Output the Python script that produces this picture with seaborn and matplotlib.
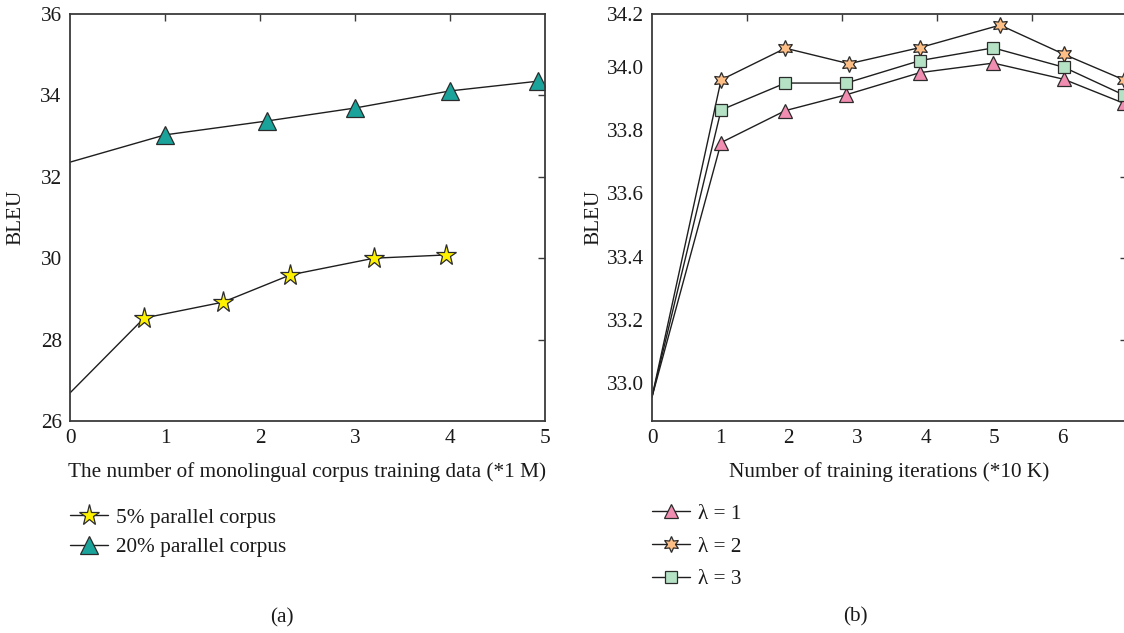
import matplotlib
matplotlib.use("Agg")
import matplotlib.pyplot as plt
import seaborn as sns

# ---------------- data ----------------
# Panel (a)
a_x_5pct = [0, 0.78, 1.61, 2.32, 3.20, 3.96]
a_y_5pct = [26.69, 28.53, 28.92, 29.59, 30.00, 30.08]
a_x_20pct = [0, 1.00, 2.07, 3.00, 4.00, 4.93]
a_y_20pct = [32.36, 33.03, 33.37, 33.69, 34.11, 34.35]
a_labels = ["5% parallel corpus", "20% parallel corpus"]
a_xticks = [0, 1, 2, 3, 4, 5]
a_yticks = [26, 28, 30, 32, 34, 36]

# Panel (b)
b_x_l1 = [0, 1.01, 1.95, 2.84, 3.92, 4.99, 6.02, 6.90]
b_y_l1 = [32.957, 33.760, 33.861, 33.911, 33.981, 34.011, 33.960, 33.884]
b_x_l2 = [0, 1.01, 1.95, 2.88, 3.92, 5.09, 6.02, 6.90]
b_y_l2 = [32.957, 33.958, 34.058, 34.009, 34.060, 34.131, 34.039, 33.958]
b_x_l3 = [0, 1.01, 1.95, 2.84, 3.92, 4.99, 6.02, 6.90]
b_y_l3 = [32.957, 33.863, 33.948, 33.948, 34.019, 34.059, 33.998, 33.910]
b_labels = ["λ = 1", "λ = 2", "λ = 3"]
b_xticks = [0, 1, 2, 3, 4, 5, 6]
b_yticks = [33.0, 33.2, 33.4, 33.6, 33.8, 34.0, 34.166]
b_yticklabels = ["33.0", "33.2", "33.4", "33.6", "33.8", "34.0", "34.2"]

# ---------------- style ----------------
sns.set_theme(style="white")
plt.rcParams["font.family"] = ["Liberation Serif", "DejaVu Serif"]
FS = 15.3
SPINE = "#3a3a3a"
LINE = "#1e1e1e"
EDGE = "#2b2b2b"
TXT = "#1a1a1a"

fig = plt.figure(figsize=(11.24, 6.33), dpi=100)
W, H = 1124, 633


def make_ax(left_px, right_px, top_px=14, bottom_px=421):
    return fig.add_axes([left_px / W, 1 - bottom_px / H,
                         (right_px - left_px) / W, (bottom_px - top_px) / H])


axA = make_ax(70, 545)
axB = make_ax(652, 1127)

common = dict(color=LINE, linewidth=1.0, markeredgecolor=EDGE,
              markeredgewidth=0.9, sort=False, markevery=slice(1, None),
              estimator=None)

sns.lineplot(x=a_x_5pct, y=a_y_5pct, ax=axA, marker="*", markersize=15.5,
             markerfacecolor="#FFF200", label=a_labels[0], **common)
sns.lineplot(x=a_x_20pct, y=a_y_20pct, ax=axA, marker="^", markersize=12.5,
             markerfacecolor="#1AA39A", label=a_labels[1], **common)

sns.lineplot(x=b_x_l1, y=b_y_l1, ax=axB, marker="^", markersize=9.5,
             markerfacecolor="#F28DB2", label=b_labels[0], **common)
sns.lineplot(x=b_x_l2, y=b_y_l2, ax=axB, marker=(6, 1, 0), markersize=11.5,
             markerfacecolor="#FDBF86", label=b_labels[1], **common)
sns.lineplot(x=b_x_l3, y=b_y_l3, ax=axB, marker="s", markersize=8,
             markerfacecolor="#B5E2C5", label=b_labels[2], **common)

axA.set_xlim(0, 5)
axA.set_ylim(26, 36)
axA.set_xticks(a_xticks)
axA.set_yticks(a_yticks)

axB.set_xlim(0, 475 / 68.4)
axB.set_ylim(32.881, 34.166)
axB.set_xticks(b_xticks)
axB.set_yticks(b_yticks)
axB.set_yticklabels(b_yticklabels)

for ax in (axA, axB):
    for s in ax.spines.values():
        s.set_color(SPINE)
        s.set_linewidth(1.3)
        s.set_visible(True)
    ax.tick_params(direction="in", length=5, width=1.0, color=SPINE,
                   labelsize=FS, pad=6, labelcolor=TXT)
    ax.set_ylabel("BLEU", fontsize=FS, color=TXT)
    ax.yaxis.label.set_va("center")
    # box ticks on the top and right edges
    top = ax.secondary_xaxis("top", functions=(
        lambda v, a=ax: (v - a.get_xlim()[0]) / (a.get_xlim()[1] - a.get_xlim()[0]),
        lambda f, a=ax: a.get_xlim()[0] + f * (a.get_xlim()[1] - a.get_xlim()[0])))
    top.set_xticks([0.2, 0.4, 0.6, 0.8])
    top.tick_params(direction="in", length=5, width=1.0, color=SPINE, labeltop=False)
    top.spines["top"].set_visible(False)
    right = ax.secondary_yaxis("right", functions=(
        lambda v, a=ax: (v - a.get_ylim()[0]) / (a.get_ylim()[1] - a.get_ylim()[0]),
        lambda f, a=ax: a.get_ylim()[0] + f * (a.get_ylim()[1] - a.get_ylim()[0])))
    right.set_yticks([0.2, 0.4, 0.6, 0.8])
    right.tick_params(direction="in", length=5, width=1.0, color=SPINE, labelright=False)
    right.spines["right"].set_visible(False)

axA.set_xlabel("The number of monolingual corpus training data (*1 M)",
               fontsize=FS, color=TXT)
axB.set_xlabel("Number of training iterations (*10 K)", fontsize=FS, color=TXT)
for ax in (axA, axB):
    ax.xaxis.label.set_va("center")
    ax.xaxis.set_label_coords(0.5, -(472 - 421) / 407)
axA.yaxis.set_label_coords((16 - 70) / 475, 0.5)
axB.yaxis.set_label_coords((594 - 652) / 475, 0.5)

legA = axA.legend(loc="upper left", bbox_to_anchor=(70 / W, 1 - 508 / H),
                  bbox_transform=fig.transFigure, frameon=False, fontsize=FS,
                  borderpad=0, borderaxespad=0, handlelength=1.8,
                  handletextpad=0.35, labelspacing=0.45)
legB = axB.legend(loc="upper left", bbox_to_anchor=(652 / W, 1 - 504 / H),
                  bbox_transform=fig.transFigure, frameon=False, fontsize=FS,
                  borderpad=0, borderaxespad=0, handlelength=1.8,
                  handletextpad=0.35, labelspacing=0.6)
for leg in (legA, legB):
    for t in leg.get_texts():
        t.set_color(TXT)

fig.text(282 / W, 1 - 618 / H, "(a)", fontsize=FS, ha="center", va="center",
         color=TXT)
fig.text(855 / W, 1 - 617 / H, "(b)", fontsize=FS, ha="center", va="center",
         color=TXT)

fig.savefig("out.png", dpi=100)
